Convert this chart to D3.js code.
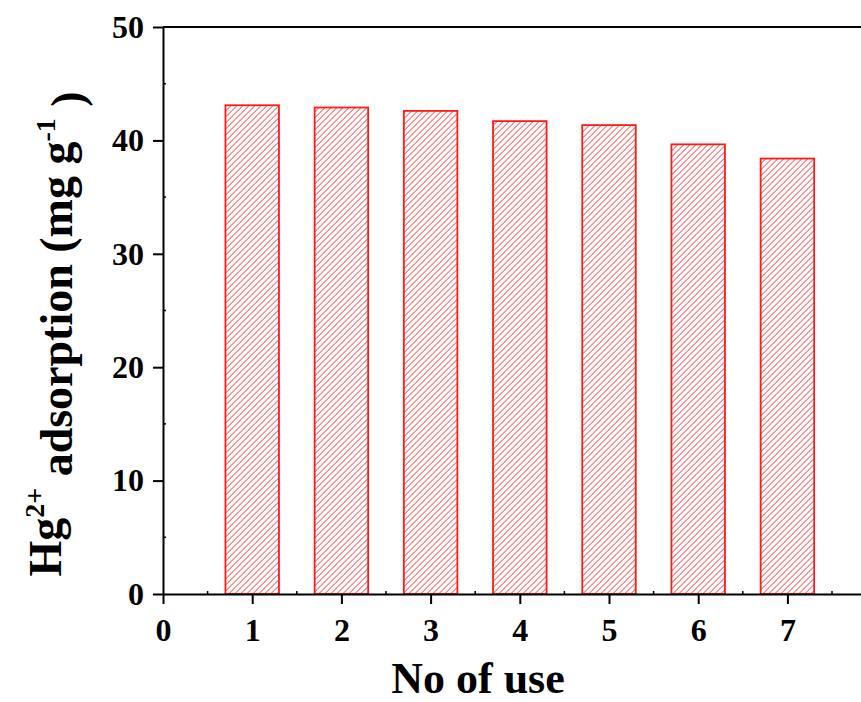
<!DOCTYPE html>
<html>
<head>
<meta charset="utf-8">
<script src="https://cdn.jsdelivr.net/npm/d3@7/dist/d3.min.js"></script>
<style>
  html, body { margin: 0; padding: 0; background: #fff; overflow: hidden; }
  svg { display: block; }
  text { font-family: "Liberation Serif", "Times New Roman", serif; font-weight: bold; fill: #000; }
</style>
</head>
<body>
<svg id="chart" width="861" height="702"></svg>
<script>
// Reuse cycles and the Hg2+ uptake measured after each cycle
const uses = [1, 2, 3, 4, 5, 6, 7];
const adsorption = [43.1, 42.9, 42.6, 41.7, 41.35, 39.65, 38.4];
const xTicks = [0, 1, 2, 3, 4, 5, 6, 7];
const yTicks = [0, 10, 20, 30, 40, 50];

const svg = d3.select("#chart");
const plotLeft = 163, plotTop = 27, plotBottom = 594;
const unit = 89.2;

const x = d3.scaleLinear().domain([0, 8]).range([plotLeft, plotLeft + 8 * unit]);
const y = d3.scaleLinear().domain([0, 50]).range([plotBottom, plotTop]);

// diagonal hatch fill for the bars
const hatchStep = 6 / Math.SQRT2;
const defs = svg.append("defs");
const pat = defs.append("pattern")
  .attr("id", "hatch")
  .attr("patternUnits", "userSpaceOnUse")
  .attr("width", hatchStep).attr("height", hatchStep)
  .attr("patternTransform", "rotate(45)");
pat.append("line")
  .attr("x1", 0).attr("y1", 0).attr("x2", 0).attr("y2", hatchStep)
  .attr("stroke", "#ff0000").attr("stroke-width", 1.2);

const barW = 0.6 * unit;
svg.append("g").selectAll("rect")
  .data(uses)
  .join("rect")
  .attr("x", (d) => x(d) - barW / 2)
  .attr("y", (d, i) => y(adsorption[i]))
  .attr("width", barW)
  .attr("height", (d, i) => y(0) - y(adsorption[i]))
  .attr("fill", "url(#hatch)")
  .attr("stroke", "#ff1a1a")
  .attr("stroke-width", 1.8);

// top frame line
svg.append("line")
  .attr("x1", plotLeft).attr("x2", 861)
  .attr("y1", plotTop).attr("y2", plotTop)
  .attr("stroke", "#000").attr("stroke-width", 2);

// minor ticks (inward)
const minorX = d3.range(0.5, 8, 1);
svg.append("g").selectAll("line")
  .data(minorX)
  .join("line")
  .attr("x1", (d) => x(d)).attr("x2", (d) => x(d))
  .attr("y1", plotBottom).attr("y2", plotBottom - 3)
  .attr("stroke", "#000").attr("stroke-width", 1.5);
const minorY = d3.range(5, 50, 10);
svg.append("g").selectAll("line")
  .data(minorY)
  .join("line")
  .attr("x1", plotLeft).attr("x2", plotLeft + 3)
  .attr("y1", (d) => y(d)).attr("y2", (d) => y(d))
  .attr("stroke", "#000").attr("stroke-width", 1.5);

// x axis
const xAxis = svg.append("g")
  .attr("transform", `translate(0,${plotBottom})`)
  .call(d3.axisBottom(x).tickValues(xTicks).tickFormat(d3.format("d"))
    .tickSize(10).tickSizeOuter(0).tickPadding(14));
xAxis.select(".domain").attr("stroke-width", 2);
xAxis.selectAll(".tick line").attr("stroke-width", 2);
xAxis.selectAll(".tick text")
  .style("font-family", "'Liberation Serif', 'Times New Roman', serif")
  .style("font-weight", "bold").style("font-size", "32px");

// y axis
const yAxis = svg.append("g")
  .attr("transform", `translate(${plotLeft},0)`)
  .call(d3.axisLeft(y).tickValues(yTicks).tickFormat(d3.format("d"))
    .tickSize(10).tickSizeOuter(0).tickPadding(9));
yAxis.select(".domain").attr("stroke-width", 2);
yAxis.selectAll(".tick line").attr("stroke-width", 2);
yAxis.selectAll(".tick text")
  .style("font-family", "'Liberation Serif', 'Times New Roman', serif")
  .style("font-weight", "bold").style("font-size", "32px");

// axis titles
svg.append("text")
  .attr("x", 478).attr("y", 693)
  .attr("text-anchor", "middle")
  .style("font-size", "44px")
  .text("No of use");

const yt = svg.append("text")
  .attr("transform", "translate(61,334) rotate(-90)")
  .attr("text-anchor", "middle")
  .style("font-size", "46px");
yt.append("tspan").text("Hg");
yt.append("tspan").attr("dy", "-0.6em").style("font-size", "28px").text("2+");
yt.append("tspan").attr("dy", "0.6em").text(" adsorption (mg g");
yt.append("tspan").attr("dy", "-0.6em").style("font-size", "28px").text("-1");
yt.append("tspan").attr("dy", "0.6em").text(" )");
</script>
</body>
</html>
